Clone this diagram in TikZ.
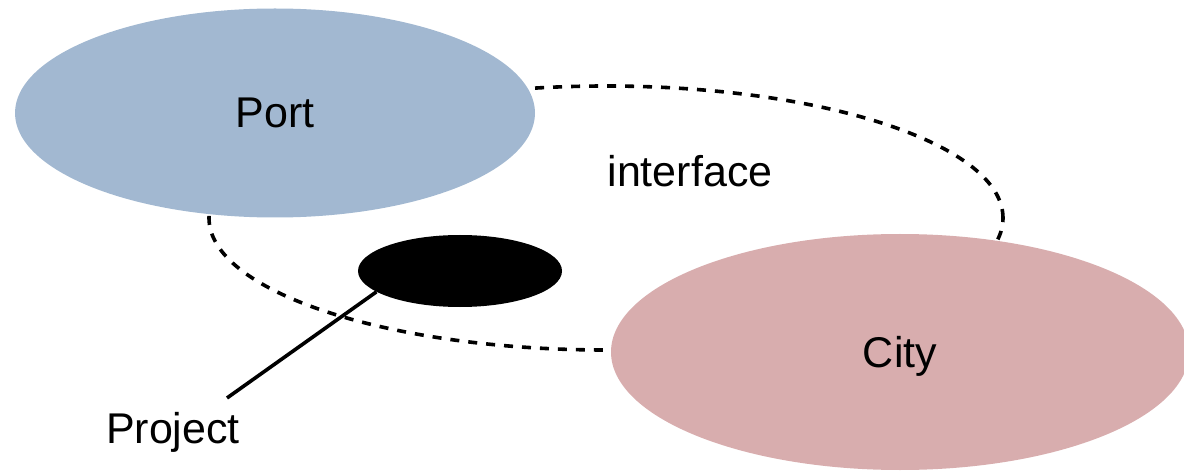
\documentclass[tikz,border=0pt]{standalone}
\usepackage{fontspec}
\setmainfont{Liberation Sans}
\usetikzlibrary{shapes.geometric}
\definecolor{portblue}{RGB}{162,184,209}
\definecolor{cityred}{RGB}{216,173,174}

\begin{document}
\begin{tikzpicture}[x=1pt, y=-1pt,
	every node/.style = {font=\fontsize{43}{50}\selectfont},
	region/.style = {ellipse, inner sep=0pt, text depth=0pt}]
	\useasboundingbox (0,0) rectangle (1184,473);
	% interface zone behind the two parties
	\node[region, draw, line width=3.6pt, dash pattern=on 9pt off 9pt,
		minimum width=794pt, minimum height=264pt] (iface) at (606,218) {};
	\node[anchor=base] (ifacelabel) at (690,187) {interface};
	\node[region, fill=portblue, minimum width=520pt, minimum height=209pt] (port) at (275,113) {Port};
	\node[region, fill=cityred, minimum width=578pt, minimum height=236pt] (city) at (900,352) {City};
	% the project sits in the interface
	\node[region, fill=black, minimum width=204pt, minimum height=72pt] (blob) at (460,271) {};
	\node[anchor=base] (project) at (173,443) {Project};
	\coordinate (tip) at (227,398);
	\draw[line width=3.6pt] (blob.194) -- (tip);
\end{tikzpicture}
\end{document}
